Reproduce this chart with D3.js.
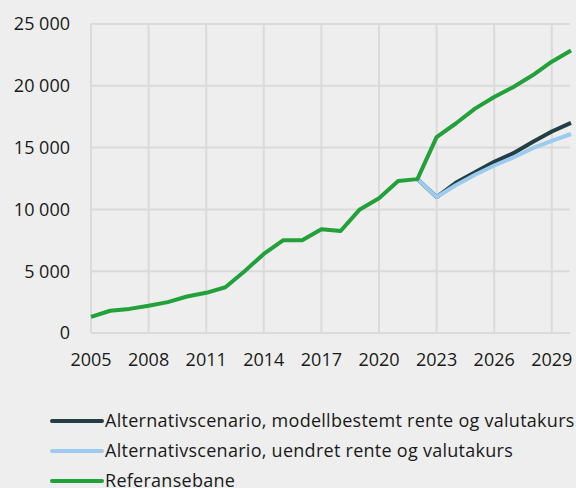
<!DOCTYPE html>
<html>
<head>
<meta charset="utf-8">
<script src="https://cdn.jsdelivr.net/npm/d3@7"></script>
<style>
  body { margin: 0; background: #eeeeee; }
  svg { display: block; font-family: "Open Sans", sans-serif; }
</style>
</head>
<body>
<svg></svg>
<script>
const years = d3.range(2005, 2031),
      referanse = [1300, 1800, 1950, 2200, 2500, 2950, 3250, 3700, 5000, 6400,
                   7500, 7500, 8400, 8250, 10000, 10900, 12300, 12450, 15850, 16950,
                   18150, 19100, 19900, 20850, 21950, 22850],
      modellYears = d3.range(2022, 2031),
      modell = [12450, 11000, 12150, 13000, 13850, 14550, 15450, 16300, 17000],
      uendret = [12450, 11000, 11950, 12800, 13550, 14200, 14950, 15550, 16100],
      xTicks = [2005, 2008, 2011, 2014, 2017, 2020, 2023, 2026, 2029],
      yTicks = [0, 5000, 10000, 15000, 20000, 25000];

const width = 576,
      height = 488,
      plotLeft = 91,
      plotRight = 571,
      plotTop = 24,
      plotBottom = 333,
      xScale = d3.scaleLinear()
                 .domain([2005, 2030])
                 .range([plotLeft, plotRight]),
      yScale = d3.scaleLinear()
                 .domain([0, 25000])
                 .range([plotBottom, plotTop]),
      fmt = d3.formatLocale({ decimal: ',', thousands: ' ', grouping: [3], currency: ['', ''] }).format(',d');

const series = [
  { name: 'Alternativscenario, modellbestemt rente og valutakurs', color: '#233e45',
    values: modellYears.map((y, i) => [y, modell[i]]) },
  { name: 'Alternativscenario, uendret rente og valutakurs', color: '#9ccbf0',
    values: modellYears.map((y, i) => [y, uendret[i]]) },
  { name: 'Referansebane', color: '#22a03a',
    values: years.map((y, i) => [y, referanse[i]]) }
];

const svg = d3.select('svg')
    .attr('width', width)
    .attr('height', height);

svg.append('rect')
    .attr('width', width)
    .attr('height', height)
    .attr('fill', '#eeeeee');

// grid
svg.append('g')
  .selectAll('line')
  .data(yTicks)
  .enter()
  .append('line')
    .attr('x1', plotLeft)
    .attr('x2', 570)
    .attr('y1', (d) => yScale(d))
    .attr('y2', (d) => yScale(d))
    .attr('stroke', '#dadada')
    .attr('stroke-width', 2);

svg.append('g')
  .selectAll('line')
  .data(xTicks)
  .enter()
  .append('line')
    .attr('x1', (d) => xScale(d))
    .attr('x2', (d) => xScale(d))
    .attr('y1', plotTop)
    .attr('y2', plotBottom)
    .attr('stroke', '#dadada')
    .attr('stroke-width', 2);

// tick labels
svg.append('g')
  .selectAll('text')
  .data(yTicks)
  .enter()
  .append('text')
    .text((d) => fmt(d))
    .attr('x', 70)
    .attr('y', (d) => yScale(d))
    .attr('dy', '0.35em')
    .style('text-anchor', 'end')
    .style('font-size', '18px')
    .attr('fill', '#1a1a1a');

svg.append('g')
  .selectAll('text')
  .data(xTicks)
  .enter()
  .append('text')
    .text((d) => d)
    .attr('x', (d) => xScale(d))
    .attr('y', 366)
    .style('text-anchor', 'middle')
    .style('font-size', '18px')
    .attr('fill', '#1a1a1a');

// lines
const line = d3.line()
    .x((d) => xScale(d[0]))
    .y((d) => yScale(d[1]));

svg.append('g')
  .selectAll('path')
  .data(series)
  .enter()
  .append('path')
    .attr('d', (d) => line(d.values))
    .attr('fill', 'none')
    .attr('stroke', (d) => d.color)
    .attr('stroke-width', 4)
    .attr('stroke-linejoin', 'round');

// legend
const legend = svg.append('g')
  .selectAll('g')
  .data(series)
  .enter()
  .append('g')
    .attr('transform', (d, i) => `translate(0, ${421 + i * 30})`);

legend.append('line')
    .attr('x1', 52)
    .attr('x2', 102)
    .attr('stroke', (d) => d.color)
    .attr('stroke-width', 4)
    .attr('stroke-linecap', 'round');

legend.append('text')
    .text((d) => d.name)
    .attr('x', 105)
    .attr('dy', '0.35em')
    .style('font-size', '18px')
    .style('letter-spacing', '0.27px')
    .attr('fill', '#1a1a1a');
</script>
</body>
</html>
